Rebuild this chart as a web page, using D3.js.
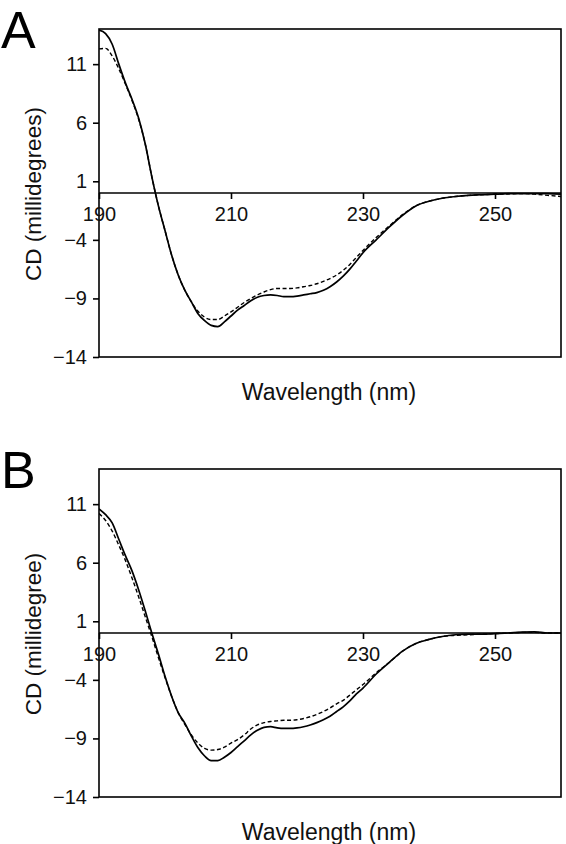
<!DOCTYPE html>
<html><head><meta charset="utf-8">
<script src="https://cdn.jsdelivr.net/npm/d3@7"></script>
<style>body{margin:0;background:#fff}svg{display:block}</style>
</head><body><svg id="c" width="566" height="844"></svg>
<script>
const wavelengths = [190,191,192,193,194,195,196,197,198,199,200,201,202,203,204,205,206,207,208,209,210,211,212,213,214,215,216,217,218,219,220,221,222,223,224,225,226,227,228,229,230,232,234,236,238,240,242,244,246,248,250,252,254,256,258,260];
const panelA_solid = [13.9,13.6,12.7,11.0,9.4,8.0,6.4,4.2,1.4,-1.1,-3.2,-5.3,-7.0,-8.3,-9.3,-10.3,-10.9,-11.3,-11.4,-11.0,-10.5,-10.0,-9.6,-9.2,-8.9,-8.75,-8.7,-8.75,-8.85,-8.85,-8.8,-8.7,-8.6,-8.5,-8.3,-8.0,-7.6,-7.1,-6.5,-5.8,-5.1,-4.0,-2.9,-1.9,-1.1,-0.7,-0.45,-0.3,-0.2,-0.15,-0.1,-0.06,-0.05,-0.05,-0.05,-0.1];
const panelA_dashed = [12.3,12.35,11.7,10.6,9.3,7.9,6.3,4.2,1.4,-1.1,-3.2,-5.3,-7.0,-8.3,-9.3,-10.1,-10.6,-10.8,-10.8,-10.5,-10.15,-9.75,-9.35,-9.0,-8.7,-8.45,-8.25,-8.15,-8.15,-8.15,-8.1,-8.0,-7.9,-7.75,-7.55,-7.3,-7.0,-6.6,-6.1,-5.5,-4.9,-3.8,-2.8,-1.85,-1.1,-0.7,-0.45,-0.3,-0.2,-0.15,-0.1,-0.08,-0.05,-0.1,-0.2,-0.3];
const panelB_solid = [10.6,10.1,9.4,8.0,6.6,5.3,3.7,1.9,0.0,-1.8,-3.7,-5.4,-6.8,-7.7,-8.8,-9.8,-10.5,-10.9,-10.9,-10.6,-10.2,-9.7,-9.2,-8.7,-8.3,-8.05,-8.0,-8.1,-8.15,-8.15,-8.1,-8.0,-7.85,-7.65,-7.4,-7.1,-6.7,-6.3,-5.8,-5.2,-4.7,-3.5,-2.5,-1.55,-0.9,-0.55,-0.3,-0.15,-0.1,-0.1,-0.05,0.0,0.08,0.1,0.0,0.0];
const panelB_dashed = [10.2,9.6,8.7,7.5,6.2,4.7,3.1,1.4,-0.3,-2.1,-3.8,-5.4,-6.8,-7.8,-8.7,-9.4,-9.85,-10.0,-9.95,-9.75,-9.4,-9.1,-8.7,-8.2,-7.85,-7.65,-7.55,-7.5,-7.45,-7.45,-7.4,-7.3,-7.15,-6.95,-6.7,-6.4,-6.05,-5.75,-5.3,-4.85,-4.4,-3.4,-2.5,-1.55,-0.9,-0.55,-0.3,-0.2,-0.15,-0.1,-0.05,0.0,0.05,0.05,0.0,0.0];
const yTicks = [-14,-9,-4,1,6,11];
const xTicks = [190,210,230,250];
const xDomain = [190,260];
const yDomain = [-14,14];
const panelLabels = ["A","B"];
const yTitles = ["CD (millidegrees)","CD (millidegree)"];
const xTitle = "Wavelength (nm)";

const svg = d3.select("#c");
const FONT = "'Liberation Sans', Arial, Helvetica, sans-serif";
const left = 99, right = 561, plotH = 328;
const tops = [29, 469];
const panels = [
  {solid: panelA_solid, dashed: panelA_dashed},
  {solid: panelB_solid, dashed: panelB_dashed}
];

panels.forEach((p, i) => {
  const top = tops[i];
  const g = svg.append("g");
  const x = d3.scaleLinear().domain(xDomain).range([left, right]);
  const y = d3.scaleLinear().domain(yDomain).range([top + plotH, top]);

  const cid = "clip" + i;
  svg.append("clipPath").attr("id", cid).append("rect")
    .attr("x", left).attr("y", top).attr("width", right - left).attr("height", plotH);

  g.append("rect").attr("x", left).attr("y", top).attr("width", right - left).attr("height", plotH)
    .attr("fill", "none").attr("stroke", "#000").attr("stroke-width", 1.6);

  const yAxis = d3.axisLeft(y).tickValues(yTicks).tickSize(6).tickPadding(6).tickFormat(d3.format("d"));
  const ya = g.append("g").attr("transform", `translate(${left},0)`).call(yAxis);
  ya.select(".domain").remove();
  ya.selectAll("line").attr("stroke", "#000").attr("stroke-width", 1.6);
  ya.selectAll("text").attr("font-family", FONT).attr("font-size", 20).attr("fill", "#111");

  const xAxis = d3.axisBottom(x).tickValues(xTicks).tickSize(6).tickPadding(8).tickFormat(d3.format("d"));
  const xa = g.append("g").attr("transform", `translate(0,${y(0)})`).call(xAxis);
  xa.select(".domain").remove();
  xa.selectAll("line").attr("stroke", "#000").attr("stroke-width", 1.6);
  xa.selectAll("text").attr("font-family", FONT).attr("font-size", 20).attr("fill", "#111");
  g.append("line").attr("x1", left).attr("x2", right).attr("y1", y(0)).attr("y2", y(0))
    .attr("stroke", "#000").attr("stroke-width", 1.6);

  const line = d3.line().x((d, k) => x(wavelengths[k])).y(d => y(d)).curve(d3.curveMonotoneX);
  const cg = g.append("g").attr("clip-path", `url(#${cid})`);
  cg.append("path").attr("d", line(p.dashed)).attr("fill", "none").attr("stroke", "#000")
    .attr("stroke-width", 1.4).attr("stroke-dasharray", "4,2.5");
  cg.append("path").attr("d", line(p.solid)).attr("fill", "none").attr("stroke", "#000")
    .attr("stroke-width", 1.7);

  g.append("text").attr("x", 1).attr("y", top + 18.5).attr("font-family", FONT).attr("font-size", 52)
    .attr("fill", "#000").text(panelLabels[i]);
  g.append("text").attr("transform", `translate(41,${top + 165}) rotate(-90)`)
    .attr("text-anchor", "middle").attr("font-family", FONT).attr("font-size", 22.5).attr("fill", "#111")
    .text(yTitles[i]);
  g.append("text").attr("x", 329).attr("y", top + 371).attr("text-anchor", "middle")
    .attr("font-family", FONT).attr("font-size", 23).attr("fill", "#111").text(xTitle);
});
</script></body></html>
